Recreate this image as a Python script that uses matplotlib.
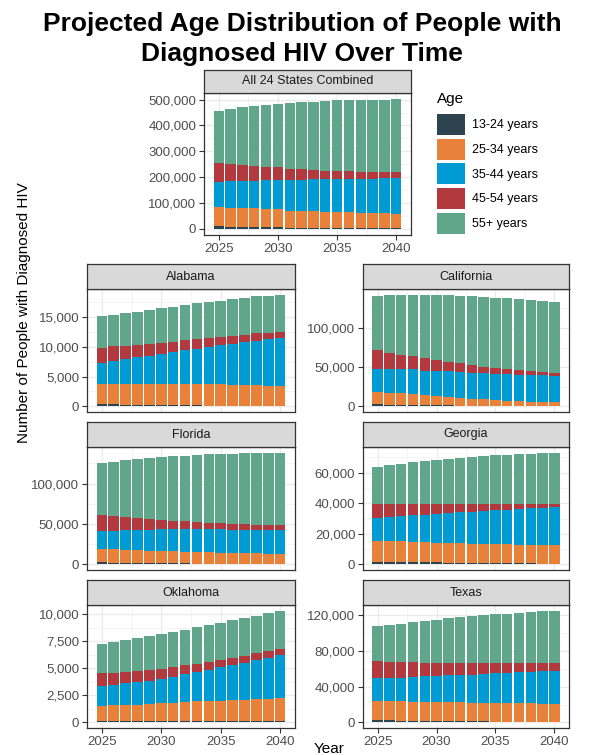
import matplotlib
matplotlib.use("Agg")
import matplotlib.pyplot as plt
from matplotlib.ticker import MultipleLocator, FuncFormatter
import numpy as np

plt.rcParams['font.family'] = ['Liberation Sans', 'DejaVu Sans']

years = list(range(2025, 2041))
age_groups = ["13-24 years", "25-34 years", "35-44 years", "45-54 years", "55+ years"]
colors = ["#2D434F", "#E8823A", "#009BD2", "#B23A3E", "#5FA68A"]

# segment values (people), one list per age group
all_13_24 = [8000, 7000, 6000, 5500, 5000, 4500, 4000, 4000, 3500, 3500, 3000, 3000, 2500, 2500, 2000, 2000]
all_25_34 = [75000, 73000, 73000, 72500, 70000, 69500, 66000, 65000, 63500, 62500, 62000, 60000, 59500, 58500, 57000, 55000]
all_35_44 = [97000, 104000, 106000, 107000, 113000, 114000, 119000, 120000, 125000, 126000, 128000, 130000, 132000, 133000, 137000, 140000]
all_45_54 = [74000, 67000, 62000, 58000, 52000, 49000, 44000, 41000, 36000, 33000, 31000, 31000, 26000, 26000, 23000, 22000]
all_55p = [204000, 214000, 223000, 232000, 240000, 247000, 254000, 260000, 264000, 270000, 273000, 274000, 279000, 280000, 281000, 282000]

al_13_24 = [350, 330, 300, 280, 250, 220, 200, 180, 170, 150, 140, 130, 120, 110, 100, 100]
al_25_34 = [3350, 3390, 3500, 3540, 3550, 3580, 3580, 3540, 3530, 3550, 3540, 3520, 3480, 3440, 3350, 3300]
al_35_44 = [3570, 3830, 4050, 4380, 4700, 5000, 5320, 5680, 5950, 6200, 6520, 6750, 7100, 7400, 7750, 8050]
al_45_54 = [2580, 2500, 2300, 2100, 2000, 1850, 1700, 1650, 1550, 1500, 1400, 1450, 1300, 1250, 1150, 1050]
al_55p = [5200, 5250, 5450, 5550, 5600, 5800, 5900, 5900, 6050, 6100, 6100, 6050, 6200, 6200, 6150, 6200]

ca_13_24 = [2500, 2200, 2000, 1800, 1600, 1400, 1200, 1100, 1000, 900, 800, 700, 600, 500, 500, 400]
ca_25_34 = [15500, 15300, 14700, 13600, 12500, 11400, 10800, 9600, 8800, 8100, 7300, 6600, 6200, 5500, 5500, 5200]
ca_35_44 = [29400, 29900, 30700, 32000, 31600, 32900, 32900, 32900, 33400, 33700, 33800, 33700, 33400, 33700, 33700, 33700]
ca_45_54 = [24000, 21000, 18400, 16300, 15800, 13700, 11900, 11500, 9800, 8100, 7700, 6900, 6400, 5600, 4300, 3900]
ca_55p = [69600, 73600, 76900, 78900, 81100, 83300, 85500, 86400, 88000, 88900, 89300, 90100, 90400, 90200, 90000, 89800]

fl_13_24 = [2500, 2200, 2000, 1800, 1600, 1400, 1300, 1200, 1100, 1000, 900, 800, 700, 600, 600, 500]
fl_25_34 = [16100, 16400, 16200, 15600, 15300, 15500, 14800, 14500, 14200, 13900, 13600, 13200, 12900, 13000, 12600, 11900]
fl_35_44 = [23100, 23300, 24100, 25400, 26300, 26500, 27300, 27700, 28100, 28500, 28800, 29200, 29500, 29400, 29700, 30300]
fl_45_54 = [19500, 17600, 16400, 14600, 13000, 12000, 10700, 9900, 9100, 8300, 7500, 7200, 6900, 6200, 5900, 5600]
fl_55p = [64000, 67400, 70200, 73200, 75600, 77600, 80200, 81400, 83000, 84700, 86000, 86800, 87600, 88800, 89200, 90100]

ga_13_24 = [1800, 1700, 1600, 1500, 1400, 1300, 1200, 1100, 1000, 900, 800, 700, 600, 600, 500, 500]
ga_25_34 = [13300, 13400, 13500, 13400, 13100, 12700, 12800, 12700, 12600, 12700, 12300, 12400, 12300, 12100, 12000, 12000]
ga_35_44 = [15100, 15800, 16400, 17300, 18100, 19300, 19700, 20600, 21000, 21400, 22400, 22800, 23500, 24100, 24500, 25000]
ga_45_54 = [9600, 8900, 8300, 7600, 7200, 6300, 5800, 4900, 4700, 4300, 3900, 3600, 3200, 2900, 2700, 2300]
ga_55p = [23700, 25000, 26100, 27000, 28100, 29000, 29700, 30600, 31000, 31500, 32000, 32400, 32500, 32800, 33000, 33400]

ok_13_24 = [130, 125, 120, 118, 115, 112, 110, 108, 105, 103, 100, 100, 98, 96, 95, 95]
ok_25_34 = [1420, 1455, 1490, 1532, 1625, 1658, 1690, 1782, 1825, 1857, 1920, 1980, 2012, 2074, 2105, 2145]
ok_35_44 = [1770, 1870, 1990, 2110, 2110, 2270, 2420, 2550, 2700, 2850, 3070, 3230, 3390, 3540, 3760, 3970]
ok_45_54 = [1280, 1150, 1090, 1020, 960, 930, 870, 810, 770, 720, 620, 620, 620, 660, 620, 560]
ok_55p = [2630, 2820, 2920, 3020, 3170, 3170, 3260, 3290, 3360, 3410, 3450, 3480, 3510, 3470, 3480, 3540]

tx_13_24 = [2500, 2300, 2100, 1900, 1700, 1600, 1500, 1400, 1200, 1100, 1000, 900, 800, 700, 600, 600]
tx_25_34 = [21500, 21700, 21500, 21300, 21200, 21300, 21000, 21100, 20900, 21000, 20700, 20800, 20600, 20700, 20400, 20400]
tx_35_44 = [25500, 25900, 26600, 27800, 28800, 29200, 30400, 30700, 31500, 32300, 33400, 33800, 34800, 35200, 36400, 36700]
tx_45_54 = [19500, 18000, 17700, 16500, 15000, 14600, 13500, 13200, 12400, 11600, 10900, 10500, 9800, 9400, 8600, 8300]
tx_55p = [38600, 41200, 42700, 44600, 46900, 48400, 50200, 51700, 53200, 54000, 55100, 55900, 57000, 57700, 58500, 59200]

panel_titles = ["All 24 States Combined", "Alabama", "California", "Florida", "Georgia", "Oklahoma", "Texas"]
panel_data = [
    [all_13_24, all_25_34, all_35_44, all_45_54, all_55p],
    [al_13_24, al_25_34, al_35_44, al_45_54, al_55p],
    [ca_13_24, ca_25_34, ca_35_44, ca_45_54, ca_55p],
    [fl_13_24, fl_25_34, fl_35_44, fl_45_54, fl_55p],
    [ga_13_24, ga_25_34, ga_35_44, ga_45_54, ga_55p],
    [ok_13_24, ok_25_34, ok_35_44, ok_45_54, ok_55p],
    [tx_13_24, tx_25_34, tx_35_44, tx_45_54, tx_55p],
]
y_major = [100000, 5000, 50000, 50000, 20000, 2500, 40000]
x_tick_labels_on = [True, False, False, False, False, True, True]

W, H = 604, 755
fig = plt.figure(figsize=(W / 100, H / 100), dpi=100)


def box(x0, y0, x1, y1):
    return [x0 / W, 1 - y1 / H, (x1 - x0) / W, (y1 - y0) / H]


# pixel layout: (x0, x1, strip_top, strip_bottom, plot_bottom)
layout = [
    (204, 411, 70, 93, 235),
    (87, 295, 264, 289, 412),
    (363, 569, 264, 289, 412),
    (87, 295, 422, 447, 570),
    (363, 569, 422, 447, 570),
    (87, 295, 580, 605, 728),
    (363, 569, 580, 605, 728),
]

border_col = "#333333"
handles = None
fmt = FuncFormatter(lambda v, p: f"{v:,.0f}")

for title, data, ymaj, xlab, (x0, x1, st, sb, pb) in zip(panel_titles, panel_data, y_major, x_tick_labels_on, layout):
    ax = fig.add_axes(box(x0, sb, x1, pb))
    ax.set_facecolor("white")
    bottom = np.zeros(len(years))
    hs = []
    for vals, col, lab in zip(data, colors, age_groups):
        b = ax.bar(years, vals, bottom=bottom, width=0.88, color=col, linewidth=0, label=lab, zorder=3)
        hs.append(b)
        bottom = bottom + np.array(vals)
    if handles is None:
        handles = hs
    top = bottom.max()
    ax.set_ylim(-0.05 * top, 1.05 * top)
    ax.set_xlim(2024.55 - 0.795, 2040.45 + 0.795)
    ax.xaxis.set_major_locator(MultipleLocator(5))
    ax.xaxis.set_minor_locator(MultipleLocator(2.5))
    ax.yaxis.set_major_locator(MultipleLocator(ymaj))
    ax.yaxis.set_minor_locator(MultipleLocator(ymaj / 2))
    ax.yaxis.set_major_formatter(fmt)
    ax.grid(which="major", color="#EBEBEB", linewidth=1.0, zorder=0)
    ax.grid(which="minor", color="#F3F3F3", linewidth=0.6, zorder=0)
    ax.set_axisbelow(True)
    for s in ax.spines.values():
        s.set_color(border_col)
        s.set_linewidth(0.9)
    ax.tick_params(axis="both", which="major", color=border_col, length=3.5, width=0.8,
                   labelsize=9.5, labelcolor="#4D4D4D", pad=2)
    ax.tick_params(axis="both", which="minor", length=0)
    if not xlab:
        ax.tick_params(axis="x", which="both", length=0, labelbottom=False)
    # strip
    sax = fig.add_axes(box(x0, st, x1, sb))
    sax.set_facecolor("#D9D9D9")
    sax.set_xticks([])
    sax.set_yticks([])
    for s in sax.spines.values():
        s.set_color(border_col)
        s.set_linewidth(0.9)
    sax.text(0.5, 0.5, title, ha="center", va="center", fontsize=9, color="#1A1A1A",
             transform=sax.transAxes)

fig.text(0.5, 1 - 12 / H, "Projected Age Distribution of People with\nDiagnosed HIV Over Time",
         ha="center", va="top", fontsize=19, fontweight="bold", linespacing=1.3, color="black")

fig.text(24 / W, 1 - 313 / H, "Number of People with Diagnosed HIV", rotation=90,
         ha="center", va="center", fontsize=11, color="black")
fig.text(329 / W, 1 - 749 / H, "Year", ha="center", va="center", fontsize=11, color="black")

# legend title and entries
fig.text(437 / W, 1 - 99 / H, "Age", ha="left", va="center", fontsize=11, color="black")
leg = fig.legend(handles=handles, labels=age_groups, loc="upper left",
                 bbox_to_anchor=(437 / W, 1 - 114 / H), frameon=False, fontsize=9,
                 handlelength=2.2, handleheight=2.2, labelspacing=0.3,
                 handletextpad=0.6, borderpad=0, borderaxespad=0)

fig.savefig("out.png", dpi=100)
